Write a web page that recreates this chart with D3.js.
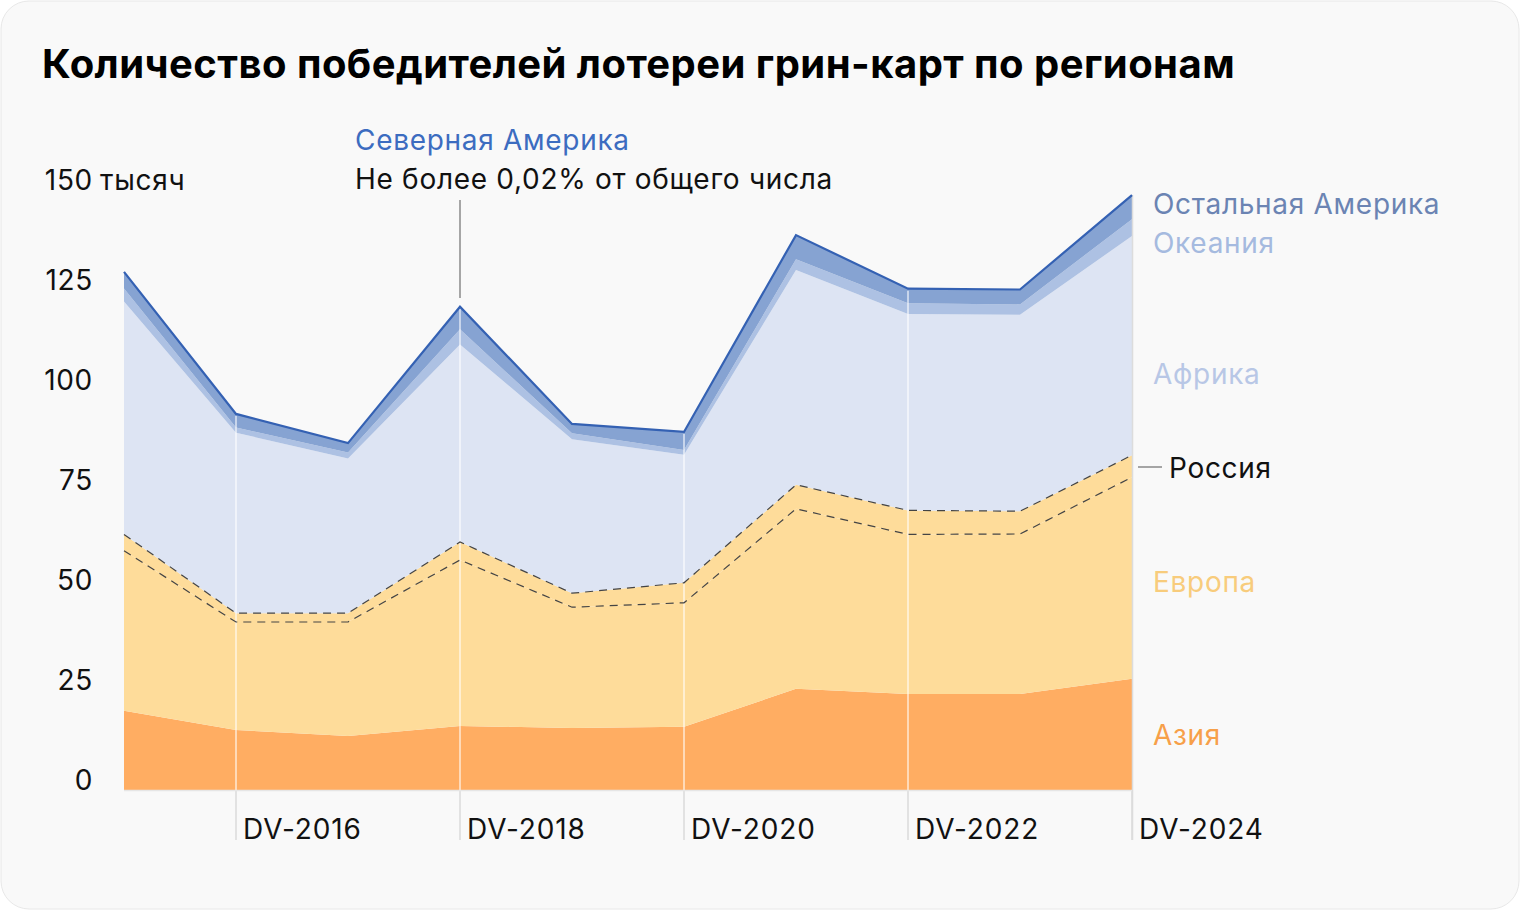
<!DOCTYPE html>
<html lang="ru">
<head>
<meta charset="utf-8">
<script src="https://cdn.jsdelivr.net/npm/d3@7"></script>
<style>
  html, body { margin: 0; padding: 0; background: #ffffff; }
  svg { display: block; font-family: "Inter", "Roboto", "Noto Sans", sans-serif; }
</style>
</head>
<body>
<svg id="chart" width="1520" height="910"></svg>
<script>
// Values in thousands of winners
const years = ["DV-2015", "DV-2016", "DV-2017", "DV-2018", "DV-2019",
               "DV-2020", "DV-2021", "DV-2022", "DV-2023", "DV-2024"];
const asia         = [19.8, 15.0, 13.5, 16.0, 15.5, 15.8, 25.3, 24.0, 24.0, 27.8];
const europe       = [40.0, 27.0, 28.5, 41.5, 30.2, 31.0, 45.0, 39.9, 40.0, 50.4];
const russia       = [4.1, 2.2, 2.2, 4.5, 3.5, 5.0, 6.0, 6.0, 5.7, 5.5];
const africa       = [58.2, 45.1, 38.7, 49.4, 38.5, 32.0, 53.7, 49.1, 49.1, 54.8];
const oceania      = [3.3, 1.3, 1.5, 3.8, 1.5, 1.2, 2.7, 2.7, 2.6, 4.2];
const restAmerica  = [4.1, 3.4, 2.3, 5.6, 2.3, 4.5, 6.0, 3.6, 3.7, 6.0];
const northAmerica = [0.02, 0.02, 0.02, 0.02, 0.02, 0.02, 0.02, 0.02, 0.02, 0.02];
const yTicks = [0, 25, 50, 75, 100, 125, 150];
const xTickLabels = ["DV-2016", "DV-2018", "DV-2020", "DV-2022", "DV-2024"];

const seriesKeys = ["asia", "europe", "russia", "africa", "oceania", "restAmerica", "northAmerica"];
const seriesData = { asia, europe, russia, africa, oceania, restAmerica, northAmerica };
const colors = {
  asia: "#ffad62",
  europe: "#fedc9a",
  russia: "#fedc9a",
  africa: "#dde4f3",
  oceania: "#adc1e3",
  restAmerica: "#86a3d2",
  northAmerica: "#3461b3"
};

const rows = years.map((yr, i) => {
  const r = { year: yr };
  seriesKeys.forEach((k) => (r[k] = seriesData[k][i]));
  return r;
});

const svg = d3.select("#chart");
const LS = 0.7; // letter spacing for the 28px texts

// card background
svg.append("rect")
  .attr("x", 1).attr("y", 1)
  .attr("width", 1518).attr("height", 908)
  .attr("rx", 28)
  .attr("fill", "#f9f9f9")
  .attr("stroke", "#e8e8e8");

svg.append("text")
  .attr("x", 42).attr("y", 78)
  .attr("font-size", 40)
  .attr("font-weight", 700)
  .attr("letter-spacing", 0.45)
  .attr("fill", "#000")
  .text("Количество победителей лотереи грин-карт по регионам");

const x = d3.scalePoint().domain(years).range([124, 1132]);
const y = d3.scaleLinear().domain([0, 150]).range([790, 190]);

const stack = d3.stack().keys(seriesKeys);
const layers = stack(rows);

const area = d3.area()
  .x((d) => x(d.data.year))
  .y0((d) => y(d[0]))
  .y1((d) => y(d[1]));

// tick segments below the baseline
svg.append("g")
  .selectAll("line")
  .data(xTickLabels)
  .enter()
  .append("line")
  .attr("x1", (d) => x(d)).attr("x2", (d) => x(d))
  .attr("y1", y(0)).attr("y2", 840)
  .attr("stroke", "#e2e2e2")
  .attr("stroke-width", 2);

svg.append("g")
  .selectAll("path")
  .data(layers)
  .enter()
  .append("path")
  .attr("d", area)
  .attr("fill", (d) => colors[d.key]);

// white grid lines over the areas
const totals = rows.map((r) => d3.sum(seriesKeys, (k) => r[k]));
svg.append("g")
  .selectAll("line")
  .data(xTickLabels.slice(0, -1))
  .enter()
  .append("line")
  .attr("x1", (d) => x(d)).attr("x2", (d) => x(d))
  .attr("y1", y(0))
  .attr("y2", (d) => y(totals[years.indexOf(d)]) + 2)
  .attr("stroke", "#ffffff")
  .attr("stroke-opacity", 0.55)
  .attr("stroke-width", 2);

// last column edge
const lastYear = years[years.length - 1];
svg.append("line")
  .attr("x1", x(lastYear) + 0.5).attr("x2", x(lastYear) + 0.5)
  .attr("y1", y(totals[totals.length - 1]))
  .attr("y2", 840)
  .attr("stroke", "#dcdcdc")
  .attr("stroke-width", 1.5);

// baseline
svg.append("line")
  .attr("x1", x(years[0])).attr("x2", x(lastYear))
  .attr("y1", y(0) + 0.5).attr("y2", y(0) + 0.5)
  .attr("stroke", "#e6e6e6")
  .attr("stroke-width", 1.5);

// dashed borders of the Russia band
const topLine = d3.line()
  .x((d) => x(d.data.year))
  .y((d) => y(d[1]));

svg.append("g")
  .selectAll("path")
  .data(layers.filter((l) => l.key === "europe" || l.key === "russia"))
  .enter()
  .append("path")
  .attr("d", topLine)
  .attr("fill", "none")
  .attr("stroke", "#444")
  .attr("stroke-width", 1.2)
  .attr("stroke-dasharray", "8,6");

// North America: thin line at the very top
svg.append("path")
  .datum(layers.find((l) => l.key === "northAmerica"))
  .attr("d", topLine)
  .attr("fill", "none")
  .attr("stroke", colors.northAmerica)
  .attr("stroke-width", 2.2)
  .attr("stroke-linejoin", "miter");

// y axis labels
const yAxis = svg.append("g")
  .attr("font-size", 28)
  .attr("letter-spacing", LS)
  .attr("fill", "#111");
yAxis.selectAll("text")
  .data(yTicks)
  .enter()
  .append("text")
  .attr("x", 93)
  .attr("y", (d) => y(d))
  .attr("text-anchor", "end")
  .text((d) => d);
yAxis.append("text")
  .attr("x", 93 + 7)
  .attr("y", y(150))
  .text("тысяч");

// x axis labels
svg.append("g")
  .attr("font-size", 28)
  .attr("letter-spacing", 0.9)
  .attr("fill", "#111")
  .selectAll("text")
  .data(xTickLabels)
  .enter()
  .append("text")
  .attr("x", (d) => x(d) + 7)
  .attr("y", 839)
  .text((d) => d);

// North America annotation
svg.append("line")
  .attr("x1", x("DV-2018")).attr("x2", x("DV-2018"))
  .attr("y1", 200).attr("y2", 298)
  .attr("stroke", "#8a8a8a")
  .attr("stroke-width", 1.5);
svg.append("text")
  .attr("x", 355).attr("y", 150)
  .attr("font-size", 28)
  .attr("letter-spacing", LS)
  .attr("fill", "#3c6cc0")
  .text("Северная Америка");
svg.append("text")
  .attr("x", 355).attr("y", 189)
  .attr("font-size", 28)
  .attr("letter-spacing", LS)
  .attr("fill", "#111")
  .text("Не более 0,02% от общего числа");

// right-hand labels
const rightLabels = [
  { text: "Остальная Америка", y: 214, color: "#6b84b3" },
  { text: "Океания", y: 253, color: "#a5badf" },
  { text: "Африка", y: 384, color: "#b8c7e6" },
  { text: "Россия", y: 478, color: "#111" },
  { text: "Европа", y: 592, color: "#f8cc7c" },
  { text: "Азия", y: 745, color: "#f7a049" }
];
svg.append("g")
  .attr("font-size", 28)
  .attr("letter-spacing", LS)
  .selectAll("text")
  .data(rightLabels)
  .enter()
  .append("text")
  .attr("x", (d) => (d.text === "Россия" ? 1169 : 1153))
  .attr("y", (d) => d.y)
  .attr("fill", (d) => d.color)
  .text((d) => d.text);

svg.append("line")
  .attr("x1", 1138).attr("x2", 1162)
  .attr("y1", 467).attr("y2", 467)
  .attr("stroke", "#888")
  .attr("stroke-width", 1.5);
</script>
</body>
</html>
